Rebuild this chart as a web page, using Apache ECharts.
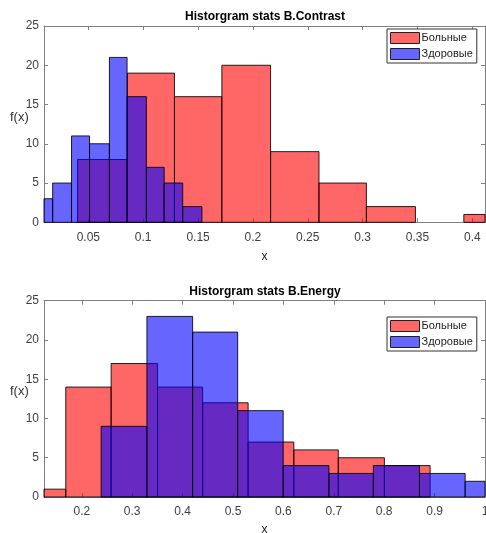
<!DOCTYPE html>
<html>
<head>
<meta charset="utf-8">
<script src="https://cdn.jsdelivr.net/npm/echarts@6/dist/echarts.min.js"></script>
<style>
html,body{margin:0;padding:0;background:#fff;}
#chart{width:486px;height:533px;}
</style>
</head>
<body>
<div id="chart"></div>
<script>
// ---- Data ----
const seriesNames = ['Больные', 'Здоровые'];

// Top panel: B.Contrast
const contrastSickEdges = [0.0402, 0.0856, 0.1285, 0.1717, 0.2161, 0.2602, 0.3034, 0.3481, 0.3922, 0.4362];
const contrastSickCounts = [8, 19, 16, 20, 9, 5, 2, 0, 1];
const contrastHealthyEdges = [0.0003, 0.0175, 0.0347, 0.0511, 0.0692, 0.0853, 0.1029, 0.1191, 0.1360, 0.1535];
const contrastHealthyCounts = [3, 5, 11, 10, 21, 16, 7, 5, 2];
const contrastXTicks = [0.05, 0.1, 0.15, 0.2, 0.25, 0.3, 0.35, 0.4];
const contrastXRange = [0.0096, 0.4115];

// Bottom panel: B.Energy
const energySickEdges = [0.0777, 0.1682, 0.2582, 0.3503, 0.4398, 0.5300, 0.6207, 0.7089, 0.8004, 0.8911];
const energySickCounts = [1, 14, 17, 14, 12, 7, 6, 5, 4];
const energyHealthyEdges = [0.2384, 0.3292, 0.4199, 0.5093, 0.5996, 0.6903, 0.7785, 0.8700, 0.9606, 1.0515];
const energyHealthyCounts = [9, 23, 21, 11, 4, 3, 4, 3, 2];
const energyXTicks = [0.2, 0.3, 0.4, 0.5, 0.6, 0.7, 0.8, 0.9, 1];
const energyXRange = [0.125, 1.0];

const yTicks = [0, 5, 10, 15, 20, 25];
const titles = ['Historgram stats B.Contrast', 'Historgram stats B.Energy'];
const xName = 'x';
const yName = 'f(x)';

// ---- Styling ----
const FONT = '"Liberation Sans", Arial, Helvetica, sans-serif';
const RED = 'rgba(255,0,0,0.6)';
const BLUE = 'rgba(0,0,255,0.6)';
const AXIS_COLOR = '#7f7f7f';
const LABEL_COLOR = '#404040';

function toBins(edges, counts) {
  return counts.map((c, i) => [edges[i], edges[i + 1], c]);
}

function renderBin(color) {
  return function (params, api) {
    const x0 = api.value(0), x1 = api.value(1), y = api.value(2);
    if (!y) return null;
    const p0 = api.coord([x0, y]);
    const p1 = api.coord([x1, 0]);
    const cs = params.coordSys;
    const rect = echarts.graphic.clipRectByRect(
      { x: p0[0], y: p0[1], width: p1[0] - p0[0], height: p1[1] - p0[1] },
      { x: cs.x, y: cs.y, width: cs.width, height: cs.height }
    );
    if (!rect) return null;
    return {
      type: 'rect',
      shape: rect,
      style: { fill: color, stroke: 'rgba(0,0,0,0.85)', lineWidth: 1 }
    };
  };
}

const grids = [
  { left: 44, top: 26, width: 441, height: 196.3, outerBoundsMode: 'none', containLabel: false },
  { left: 44, top: 300.7, width: 441, height: 196.3, outerBoundsMode: 'none', containLabel: false }
];

function xAxes(gridIndex, range, ticks, nameGap) {
  return [
    {
      type: 'value', gridIndex, position: 'bottom', min: range[0], max: range[1],
      name: xName, nameLocation: 'middle', nameGap,
      nameTextStyle: { fontFamily: FONT, fontSize: 12, color: '#222' },
      axisLine: { show: true, lineStyle: { color: AXIS_COLOR, width: 1 } },
      axisTick: { show: true, inside: true, length: 4, customValues: ticks, lineStyle: { color: AXIS_COLOR } },
      axisLabel: { show: true, customValues: ticks, margin: 9, fontFamily: FONT, fontSize: 12, color: LABEL_COLOR },
      splitLine: { show: false }
    },
    {
      type: 'value', gridIndex, position: 'top', min: range[0], max: range[1],
      axisLine: { show: true, onZero: false, lineStyle: { color: AXIS_COLOR, width: 1 } },
      axisTick: { show: true, inside: true, length: 4, customValues: ticks, lineStyle: { color: AXIS_COLOR } },
      axisLabel: { show: false },
      splitLine: { show: false }
    }
  ];
}

function yAxes(gridIndex) {
  return [
    {
      type: 'value', gridIndex, position: 'left', min: 0, max: 25, interval: 5,
      axisLine: { show: true, lineStyle: { color: AXIS_COLOR, width: 1 } },
      axisTick: { show: true, inside: true, length: 4, lineStyle: { color: AXIS_COLOR } },
      axisLabel: { show: true, margin: 5, fontFamily: FONT, fontSize: 12, color: LABEL_COLOR },
      splitLine: { show: false }
    },
    {
      type: 'value', gridIndex, position: 'right', min: 0, max: 25, interval: 5,
      axisLine: { show: true, onZero: false, lineStyle: { color: AXIS_COLOR, width: 1 } },
      axisTick: { show: true, inside: true, length: 4, lineStyle: { color: AXIS_COLOR } },
      axisLabel: { show: false },
      splitLine: { show: false }
    }
  ];
}

function legendAt(top) {
  return {
    orient: 'vertical', left: 387, top,
    data: seriesNames,
    icon: 'rect', itemWidth: 29, itemHeight: 11, itemGap: 4,
    padding: [3, 4, 3, 3],
    backgroundColor: '#fff', borderColor: '#333', borderWidth: 1, borderRadius: 0,
    itemStyle: { borderColor: '#222', borderWidth: 1 },
    textStyle: { fontFamily: FONT, fontSize: 11, color: '#222', lineHeight: 11, padding: [0, 0, 0, -3] },
    selectedMode: false
  };
}

function mkSeries(name, color, edges, counts, xi, yi) {
  return {
    type: 'custom', name, xAxisIndex: xi, yAxisIndex: yi,
    itemStyle: { color },
    renderItem: renderBin(color),
    encode: { x: [0, 1], y: 2 },
    data: toBins(edges, counts),
    silent: true
  };
}

const option = {
  animation: false,
  backgroundColor: '#fff',
  grid: grids,
  xAxis: [
    ...xAxes(0, contrastXRange, contrastXTicks, 28),
    ...xAxes(1, energyXRange, energyXTicks, 27)
  ],
  yAxis: [...yAxes(0), ...yAxes(1)],
  legend: [legendAt(29), legendAt(317)],
  series: [
    mkSeries(seriesNames[0], RED, contrastSickEdges, contrastSickCounts, 0, 0),
    mkSeries(seriesNames[1], BLUE, contrastHealthyEdges, contrastHealthyCounts, 0, 0),
    mkSeries(seriesNames[0], RED, energySickEdges, energySickCounts, 2, 2),
    mkSeries(seriesNames[1], BLUE, energyHealthyEdges, energyHealthyCounts, 2, 2)
  ],
  graphic: [
    { type: 'text', x: 265, y: 16.7, style: { text: titles[0], align: 'center', verticalAlign: 'middle', font: 'bold 12px ' + FONT, fill: '#000' } },
    { type: 'text', x: 265, y: 291.7, style: { text: titles[1], align: 'center', verticalAlign: 'middle', font: 'bold 12px ' + FONT, fill: '#000' } },
    { type: 'text', x: 10, y: 117.3, style: { text: yName, align: 'left', verticalAlign: 'middle', font: '13px ' + FONT, fill: '#333' } },
    { type: 'text', x: 10, y: 391, style: { text: yName, align: 'left', verticalAlign: 'middle', font: '13px ' + FONT, fill: '#333' } }
  ]
};

const chart = echarts.init(document.getElementById('chart'), null, { renderer: 'canvas' });
chart.setOption(option);
</script>
</body>
</html>
